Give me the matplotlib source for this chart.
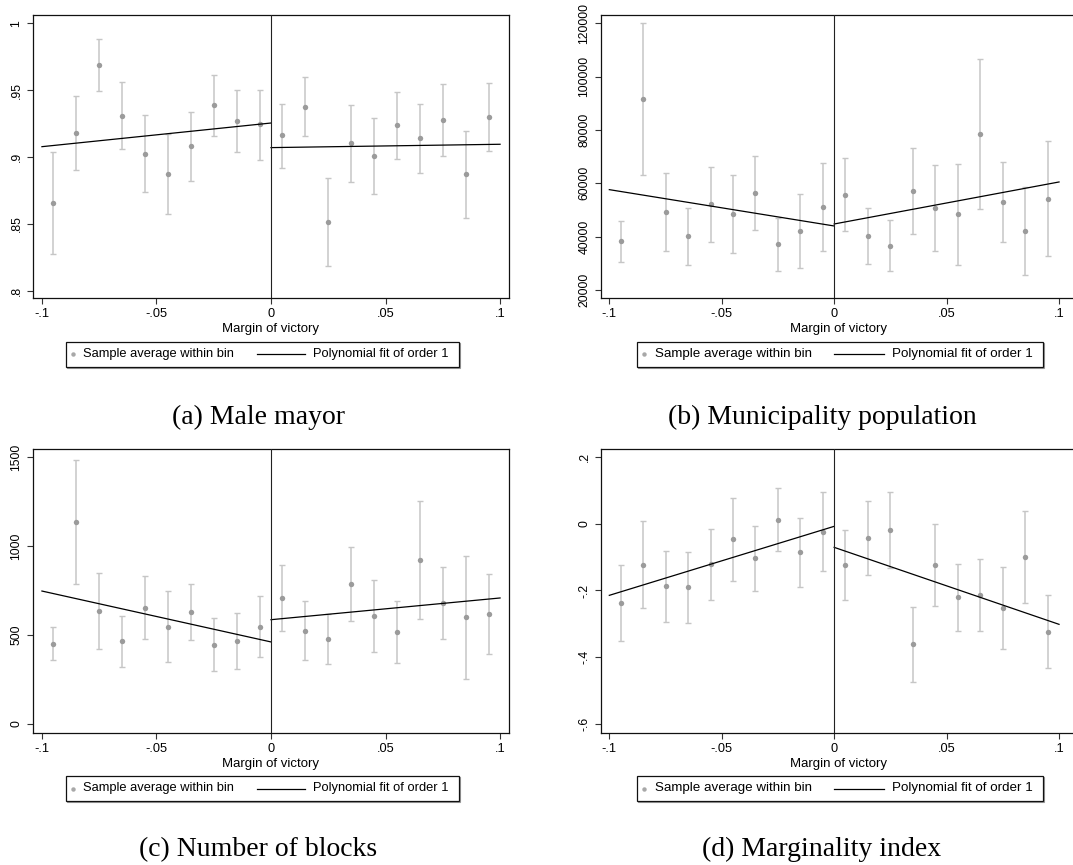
from __future__ import annotations

import matplotlib

matplotlib.use("Agg")

import matplotlib.pyplot as plt
from matplotlib.lines import Line2D
from matplotlib.patches import Rectangle


FIG_W, FIG_H = 1073, 865

# bin centres of the margin of victory
BIN_X = [-0.095, -0.085, -0.075, -0.065, -0.055, -0.045, -0.035, -0.025, -0.015, -0.005,
         0.005, 0.015, 0.025, 0.035, 0.045, 0.055, 0.065, 0.075, 0.085, 0.095]
FIT_X_LEFT = [-0.1, 0.0]
FIT_X_RIGHT = [0.0, 0.1]
X_TICKS = [-0.1, -0.05, 0.0, 0.05, 0.1]
X_TICK_LABELS = ["-.1", "-.05", "0", ".05", ".1"]

# (a) Male mayor
MALE_MEAN = [0.8656, 0.9177, 0.9686, 0.9309, 0.9025, 0.8875, 0.9080, 0.9387, 0.9272, 0.9244,
             0.9162, 0.9377, 0.8514, 0.9102, 0.9005, 0.9237, 0.9140, 0.9277, 0.8870, 0.9297]
MALE_HI = [0.9040, 0.9459, 0.9880, 0.9559, 0.9312, 0.9170, 0.9337, 0.9611, 0.9504, 0.9504,
           0.9399, 0.9599, 0.8843, 0.9392, 0.9289, 0.9486, 0.9394, 0.9546, 0.9195, 0.9551]
MALE_LO = [0.8274, 0.8900, 0.9490, 0.9057, 0.8738, 0.8576, 0.8820, 0.9160, 0.9037, 0.8978,
           0.8918, 0.9155, 0.8185, 0.8810, 0.8721, 0.8988, 0.8880, 0.9007, 0.8546, 0.9042]
MALE_FIT_LEFT = [0.9077, 0.9254]
MALE_FIT_RIGHT = [0.9070, 0.9095]
MALE_YTICKS = [0.8, 0.85, 0.9, 0.95, 1.0]
MALE_YLABELS = [".8", ".85", ".9", ".95", "1"]

# (b) Municipality population
POP_MEAN = [38250, 91625, 49125, 40125, 52125, 48375, 56250, 37125, 42000, 51000,
            55750, 40250, 36625, 57250, 50625, 48375, 78375, 52875, 42250, 54250]
POP_HI = [46000, 120250, 64000, 50875, 66000, 63250, 70125, 46875, 55875, 67500,
          69375, 50875, 46375, 73375, 66750, 67375, 106625, 68000, 58750, 76000]
POP_LO = [30500, 63125, 34500, 29375, 38125, 33750, 42500, 27250, 28125, 34500,
          42125, 29625, 27000, 41125, 34750, 29250, 50250, 37875, 25750, 32625]
POP_FIT_LEFT = [57625, 44000]
POP_FIT_RIGHT = [44750, 60500]
POP_YTICKS = [20000, 40000, 60000, 80000, 100000, 120000]
POP_YLABELS = ["20000", "40000", "60000", "80000", "100000", "120000"]

# (c) Number of blocks
BLOCK_MEAN = [451, 1135, 635, 464, 652, 545, 627, 446, 468, 547,
              706, 524, 478, 785, 605, 517, 921, 680, 599, 620]
BLOCK_HI = [543, 1485, 846, 607, 830, 745, 785, 594, 624, 721,
            891, 691, 620, 993, 809, 693, 1253, 880, 946, 845]
BLOCK_LO = [361, 785, 423, 320, 478, 348, 472, 298, 311, 375,
            522, 360, 335, 579, 403, 343, 590, 479, 255, 395]
BLOCK_FIT_LEFT = [747, 461]
BLOCK_FIT_RIGHT = [586, 708]
BLOCK_YTICKS = [0, 500, 1000, 1500]
BLOCK_YLABELS = ["0", "500", "1000", "1500"]

# (d) Marginality index
MARG_MEAN = [-0.2375, -0.1226, -0.1875, -0.1895, -0.1206, -0.0467, -0.1026, 0.0122, -0.0857, -0.0237,
             -0.1236, -0.0427, -0.0187, -0.3613, -0.1236, -0.2205, -0.2145, -0.2535, -0.0996, -0.3244]
MARG_HI = [-0.1236, 0.0082, -0.0827, -0.0837, -0.0157, 0.0772, -0.0057, 0.1061, 0.0182, 0.0941,
           -0.0187, 0.0692, 0.0951, -0.2485, 0.0002, -0.1196, -0.1066, -0.1306, 0.0382, -0.2135]
MARG_LO = [-0.3513, -0.2525, -0.2934, -0.2964, -0.2275, -0.1705, -0.2005, -0.0817, -0.1895, -0.1416,
           -0.2285, -0.1536, -0.1316, -0.4752, -0.2455, -0.3214, -0.3214, -0.3753, -0.2365, -0.4332]
MARG_FIT_LEFT = [-0.2145, -0.0077]
MARG_FIT_RIGHT = [-0.0707, -0.3014]
MARG_YTICKS = [-0.6, -0.4, -0.2, 0.0, 0.2]
MARG_YLABELS = ["-.6", "-.4", "-.2", "0", ".2"]

CAPTIONS = ["(a) Male mayor", "(b) Municipality population",
            "(c) Number of blocks", "(d) Marginality index"]

SANS = ["Liberation Sans", "DejaVu Sans"]
SERIF = ["Liberation Serif", "DejaVu Serif"]
POINT_COLOR = "#9b9b9b"
BAR_COLOR = "#c6c6c6"


def fx(px: float) -> float:
    return px / FIG_W


def fy(py: float) -> float:
    return 1 - py / FIG_H


def add_axes(fig, left, top, right, bottom):
    return fig.add_axes([fx(left), fy(bottom), (right - left) / FIG_W, (bottom - top) / FIG_H])


def draw_panel(ax, mean, lo, hi, fit_left, fit_right, yticks, ylabels, xlim, ylim):
    err = [[m - l for m, l in zip(mean, lo)], [h - m for m, h in zip(mean, hi)]]
    ax.errorbar(BIN_X, mean, yerr=err, fmt="none", ecolor=BAR_COLOR,
                elinewidth=1.1, capsize=2.0, capthick=1.0, zorder=2)
    ax.plot(BIN_X, mean, "o", color=POINT_COLOR, markersize=3.9,
            markeredgewidth=0, zorder=3)
    ax.plot(FIT_X_LEFT, fit_left, color="black", linewidth=0.9, zorder=4)
    ax.plot(FIT_X_RIGHT, fit_right, color="black", linewidth=0.9, zorder=4)
    ax.axvline(0, color="#222222", linewidth=0.8, zorder=4)

    ax.set_xlim(*xlim)
    ax.set_ylim(*ylim)
    ax.set_xticks(X_TICKS)
    ax.set_xticklabels(X_TICK_LABELS, fontfamily=SANS, fontsize=9.2)
    ax.set_yticks(yticks)
    ax.set_yticklabels(ylabels, fontfamily=SANS, fontsize=8.8, rotation=90, va="center")
    ax.tick_params(direction="out", length=4.5, width=0.8, color="#333333", pad=3)
    ax.set_xlabel("Margin of victory", fontfamily=SANS, fontsize=9.5, labelpad=2)
    for sp in ax.spines.values():
        sp.set_linewidth(0.9)
        sp.set_color("#111111")


def draw_legend(fig, x0, y0, x1, y1):
    s = (x1 - x0) / 393.0
    yc = (y0 + y1) / 2
    # light shadow on the right and bottom, then the frame
    fig.add_artist(Rectangle((fx(x0 + 1), fy(y1 + 1)), (x1 - x0) / FIG_W, (y1 - y0) / FIG_H,
                             transform=fig.transFigure, fill=False,
                             edgecolor="#9a9a9a", linewidth=0.8))
    fig.add_artist(Rectangle((fx(x0), fy(y1)), (x1 - x0) / FIG_W, (y1 - y0) / FIG_H,
                             transform=fig.transFigure, facecolor="white",
                             edgecolor="#111111", linewidth=0.9))
    fig.add_artist(Line2D([fx(x0 + 7 * s)], [fy(yc)], marker="o", markersize=3.2,
                          color="#a8a8a8", markeredgewidth=0, transform=fig.transFigure))
    fig.text(fx(x0 + 17 * s), fy(yc), "Sample average within bin", fontfamily=SANS,
             fontsize=9.3 * s, va="center", ha="left")
    fig.add_artist(Line2D([fx(x0 + 191 * s), fx(x0 + 239 * s)], [fy(yc), fy(yc)],
                          color="black", linewidth=0.9, transform=fig.transFigure))
    fig.text(fx(x0 + 247 * s), fy(yc), "Polynomial fit of order 1", fontfamily=SANS,
             fontsize=9.3 * s, va="center", ha="left")


def main() -> None:
    fig = plt.figure(figsize=(FIG_W / 100, FIG_H / 100), dpi=100)

    xlim_left = (-0.1039, 0.1039)
    xlim_right = (-0.1037, 0.1071)

    ax_a = add_axes(fig, 33, 15, 509, 298)
    draw_panel(ax_a, MALE_MEAN, MALE_LO, MALE_HI, MALE_FIT_LEFT, MALE_FIT_RIGHT,
               MALE_YTICKS, MALE_YLABELS, xlim_left, (0.7945, 1.0062))
    ax_b = add_axes(fig, 601, 15, 1075, 298)
    draw_panel(ax_b, POP_MEAN, POP_LO, POP_HI, POP_FIT_LEFT, POP_FIT_RIGHT,
               POP_YTICKS, POP_YLABELS, xlim_right, (17000, 123100))
    ax_c = add_axes(fig, 33, 449, 509, 733)
    draw_panel(ax_c, BLOCK_MEAN, BLOCK_LO, BLOCK_HI, BLOCK_FIT_LEFT, BLOCK_FIT_RIGHT,
               BLOCK_YTICKS, BLOCK_YLABELS, xlim_left, (-50.6, 1545))
    ax_d = add_axes(fig, 601, 449, 1075, 733)
    draw_panel(ax_d, MARG_MEAN, MARG_LO, MARG_HI, MARG_FIT_LEFT, MARG_FIT_RIGHT,
               MARG_YTICKS, MARG_YLABELS, xlim_right, (-0.627, 0.224))

    draw_legend(fig, 66, 342, 459, 367)
    draw_legend(fig, 637, 342, 1043, 367)
    draw_legend(fig, 66, 776, 459, 801)
    draw_legend(fig, 637, 776, 1043, 801)

    for cx, base, text in zip([258, 822, 258, 822], [424, 424, 856, 856], CAPTIONS):
        fig.text(fx(cx), fy(base), text, fontfamily=SERIF, fontsize=20,
                 ha="center", va="baseline")

    fig.savefig("out.png", dpi=100)
    plt.close(fig)


if __name__ == "__main__":
    main()
